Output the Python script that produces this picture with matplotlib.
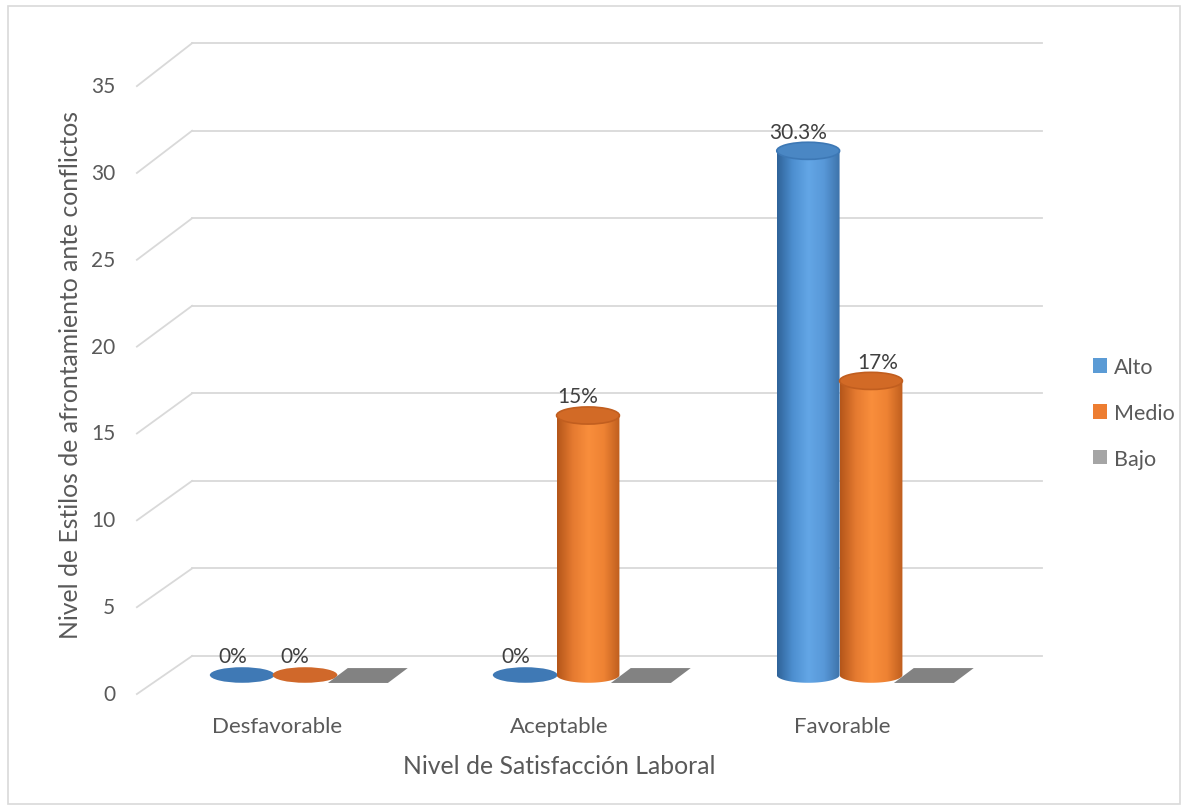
import numpy as np
import matplotlib
matplotlib.use("Agg")
import matplotlib.pyplot as plt
from matplotlib.patches import Ellipse, PathPatch, Polygon, Rectangle
from matplotlib.path import Path
from matplotlib.colors import LinearSegmentedColormap

plt.rcParams['font.family'] = ['Lato', 'DejaVu Sans']

categories = ['Desfavorable', 'Aceptable', 'Favorable']
series = ['Alto', 'Medio', 'Bajo']
alto = [0, 0, 30.3]
medio = [0, 15, 17]
bajo = [0, 0, 0]
alto_labels = ['0%', '0%', '30.3%']
medio_labels = ['0%', '15%', '17%']
yticks = [0, 5, 10, 15, 20, 25, 30, 35]

text_col = '#595959'
grid_col = '#D9D9D9'

fig = plt.figure(figsize=(11.88, 8.12), dpi=100)
ax = fig.add_axes([0, 0, 1, 1])

# geometry (data units: x = category index, y = value)
bar_w = 0.222       # cylinder width
ell_h = 0.9         # ellipse height
off = 0.222         # series offset inside a group
back_x0, back_x1 = -0.399, 2.604
front_x = -0.594


def back_y(v):
    return 1.1 + v * 1.012


def front_y(v):
    return -1.1 + v * 1.004


# back wall gridlines + side wall diagonals
for v in yticks:
    ax.plot([back_x0, back_x1], [back_y(v), back_y(v)], color=grid_col, lw=1.3, zorder=1)
    ax.plot([front_x, back_x0], [front_y(v), back_y(v)], color=grid_col, lw=1.3, zorder=1)
    ax.text(-0.67, front_y(v), str(v), ha='right', va='center', fontsize=15, color=text_col)


def cylinder(cx, h, colors, top_col, rim_col):
    x0, x1 = cx - bar_w / 2, cx + bar_w / 2
    t = np.linspace(np.pi, 2 * np.pi, 60)
    arc = np.column_stack([cx + bar_w / 2 * np.cos(t), ell_h / 2 * np.sin(t)])
    verts = np.vstack([[x0, h], arc, [x1, h], [x0, h]])
    codes = [Path.MOVETO] + [Path.LINETO] * (len(verts) - 2) + [Path.CLOSEPOLY]
    patch = PathPatch(Path(verts, codes), facecolor='none', edgecolor='none')
    ax.add_patch(patch)
    cmap = LinearSegmentedColormap.from_list('c', colors)
    grad = np.linspace(0, 1, 200).reshape(1, -1)
    im = ax.imshow(grad, extent=(x0, x1, -ell_h / 2, h), aspect='auto', cmap=cmap,
                   origin='lower', zorder=3, interpolation='bilinear')
    im.set_clip_path(patch)
    ax.add_patch(Ellipse((cx, h), bar_w, ell_h * 1.1, facecolor=top_col,
                         edgecolor=rim_col, lw=1.2, zorder=4))


def flat(cx, col):
    ax.add_patch(Ellipse((cx, 0), bar_w * 1.03, ell_h, facecolor=col, edgecolor='none', zorder=3))


blue_grad = ['#2F6399', '#4D8FD0', '#63A6E6', '#5898D8', '#3D73AA']
blue_top = '#4A87C4'
orange_grad = ['#B4561A', '#E57A30', '#F98E3C', '#EE8233', '#BF5E1E']
orange_top = '#D26A26'

for i in range(len(categories)):
    # Alto
    if alto[i] > 0:
        cylinder(i - off, alto[i], blue_grad, blue_top, '#3D78B5')
    else:
        flat(i - off, '#3F79B5')
    ax.text(i - off - 0.035, alto[i] + 1.1, alto_labels[i], ha='center', va='center',
            fontsize=15, color='#404040', zorder=5)
    # Medio
    if medio[i] > 0:
        cylinder(i, medio[i], orange_grad, orange_top, '#C15E1F')
    else:
        flat(i, '#D0682A')
    ax.text(i - 0.035 if medio[i] < 16 else i + 0.025, medio[i] + 1.1, medio_labels[i],
            ha='center', va='center', fontsize=15, color='#404040', zorder=5)
    # Bajo (flat parallelogram for zero values)
    cx = i + off
    ax.add_patch(Polygon([(cx - 0.141, bajo[i] - 0.46), (cx + 0.071, bajo[i] - 0.46),
                          (cx + 0.141, bajo[i] + 0.40), (cx - 0.071, bajo[i] + 0.40)],
                         closed=True, facecolor='#828282', edgecolor='none', zorder=3))
    ax.text(i - 0.10, -2.95, categories[i], ha='center', va='center', fontsize=16, color=text_col)

ax.text(0.90, -5.26, 'Nivel de Satisfacción Laboral', ha='center', va='center',
        fontsize=17.8, color=text_col)
ax.text(-0.83, 17.4, 'Nivel de Estilos de afrontamiento ante conflictos', ha='center',
        va='center', rotation=90, fontsize=17.8, color=text_col)

# legend
leg_cols = ['#5B9BD5', '#ED7D31', '#A5A5A5']
handles = [Rectangle((0, 0), 1, 1, facecolor=c, edgecolor='none') for c in leg_cols]
leg = fig.legend(handles, series, loc='center left', bbox_to_anchor=(1074 / 1188, 1 - 414 / 812),
                 frameon=False, fontsize=15.5, handlelength=0.65, handleheight=0.65,
                 handletextpad=0.3, labelspacing=1.2)
for t in leg.get_texts():
    t.set_color(text_col)

ax.set_xlim(-305 / 283, (1188 - 305) / 283)
ax.set_ylim(-(812 - 676) / 17.3, 676 / 17.3)
ax.axis('off')

fig.patches.append(Rectangle((8 / 1188, 7 / 812), 1172 / 1188, 798 / 812, transform=fig.transFigure,
                             fill=False, edgecolor='#D9D9D9', lw=1.2))

fig.savefig('out.png', dpi=100)
